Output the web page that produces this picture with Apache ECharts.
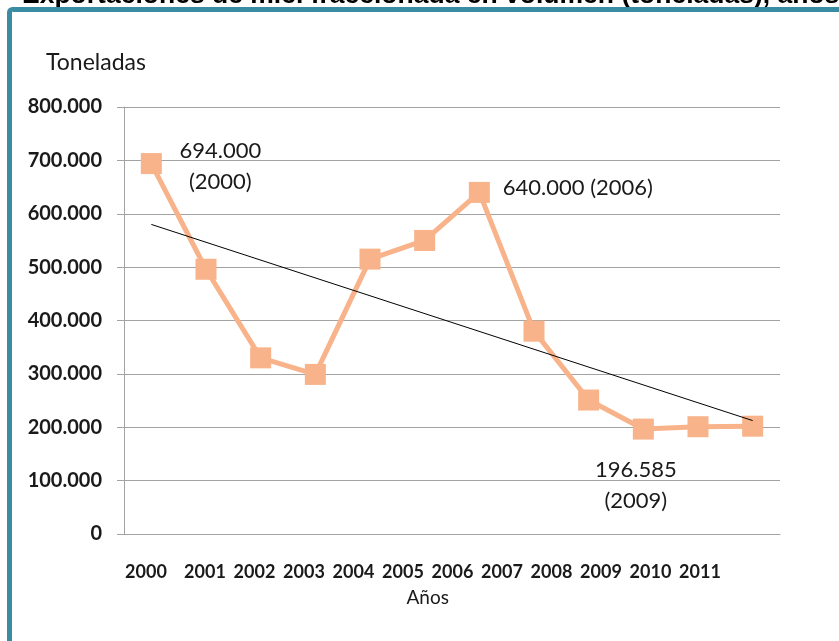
<!DOCTYPE html>
<html><head><meta charset="utf-8">
<script src="https://cdn.jsdelivr.net/npm/echarts@6/dist/echarts.min.js"></script>
<style>html,body{margin:0;padding:0;background:#fff}#c{width:839px;height:641px}</style>
</head><body><div id="c"></div>
<script>
const years = ['2000','2001','2002','2003','2004','2005','2006','2007','2008','2009','2010','2011'];
const tonnes = [694000, 496000, 330000, 299000, 515000, 550000, 640000, 380000, 251000, 196585, 201000, 202000];
const trendYears = ['2000', '2011'];
const trendValues = [580000, 212500];
const annotatedIdx = [0, 6, 9];
const yMin = 0, yMax = 800000, yStep = 100000;

function fmt(v) {
  return String(Math.round(v)).replace(/\B(?=(\d{3})+(?!\d))/g, '.');
}
const labelCfg = {
  0: { offset: [69, 2.5], sep: '\n' },
  6: { offset: [98.5, -4], sep: ' ' },
  9: { offset: [-7.5, 56.5], sep: '\n' }
};
const seriesData = tonnes.map((v, i) => {
  if (annotatedIdx.indexOf(i) < 0) return v;
  const c = labelCfg[i];
  return {
    value: v,
    label: {
      show: true, position: 'inside', offset: c.offset,
      formatter: fmt(v) + c.sep + '(' + years[i] + ')',
      fontFamily: 'Lato', fontSize: 22, color: '#1a1a1a', lineHeight: 31, align: 'center'
    }
  };
});

const gridCol = '#A3A3A3';
const xLabFont = { fontFamily: 'Lato', fontWeight: 'bold', fontSize: 18, color: '#1a1a1a' };
const chart = echarts.init(document.getElementById('c'));
chart.setOption({
  animation: false,
  backgroundColor: '#fff',
  title: [
    { text: 'Exportaciones de miel fraccionada en volumen (toneladas), años 2000-2011', left: 22, top: -18, padding: 0,
      textStyle: { fontFamily: 'Liberation Sans', fontWeight: 'bold', fontSize: 26.5, color: '#000' } },
    { text: 'Toneladas', left: 46, top: 51.5, padding: 0,
      textStyle: { fontFamily: 'Lato', fontWeight: 'normal', fontSize: 23, color: '#1a1a1a' } }
  ],
  graphic: [{
    type: 'rect', z: 100, silent: true,
    shape: { x: 9.5, y: 9.5, width: 900, height: 800, r: 3 },
    style: { fill: 'none', stroke: '#3A8CA3', lineWidth: 5 }
  }],
  grid: [
    { left: 124, right: 59, top: 107, bottom: 107 },
    { left: 130.75, width: 594, top: 107, bottom: 107 }
  ],
  xAxis: [
    { type: 'category', gridIndex: 0, data: years, boundaryGap: true,
      axisLine: { lineStyle: { color: gridCol, width: 1 } },
      axisTick: { show: false }, axisLabel: { show: false }, splitLine: { show: false } },
    { type: 'category', gridIndex: 1, data: years, boundaryGap: true,
      axisLine: { show: false }, axisTick: { show: false }, splitLine: { show: false },
      axisLabel: Object.assign({ interval: 0, margin: 29,
        formatter: (v, i) => i === 0 ? '{a|' + v + '}' : v,
        rich: { a: Object.assign({ padding: [0, 19, 0, 0] }, xLabFont) } }, xLabFont),
      name: 'Años', nameLocation: 'middle', nameGap: 54,
      nameTextStyle: { fontFamily: 'Lato', fontSize: 19, color: '#1a1a1a' } }
  ],
  yAxis: [
    { type: 'value', gridIndex: 0, min: yMin, max: yMax, interval: yStep,
      axisLine: { show: true, lineStyle: { color: gridCol, width: 1 } },
      axisTick: { show: true, length: 7, lineStyle: { color: gridCol } },
      splitLine: { show: true, lineStyle: { color: gridCol, width: 1 } },
      axisLabel: { margin: 22, formatter: v => fmt(v), fontFamily: 'Lato', fontWeight: 'bold', fontSize: 20, color: '#1a1a1a' } },
    { type: 'value', gridIndex: 1, show: false, min: yMin, max: yMax }
  ],
  series: [
    { type: 'line', xAxisIndex: 0, yAxisIndex: 0, data: seriesData, z: 2,
      symbol: 'rect', symbolSize: 21, showAllSymbol: true,
      lineStyle: { color: '#F8B38A', width: 5 }, itemStyle: { color: '#F8B38A' } },
    { type: 'line', xAxisIndex: 0, yAxisIndex: 0, z: 3, symbol: 'none',
      data: trendYears.map((y, i) => [y, trendValues[i]]),
      lineStyle: { color: '#000', width: 1 } }
  ]
});
</script></body></html>
